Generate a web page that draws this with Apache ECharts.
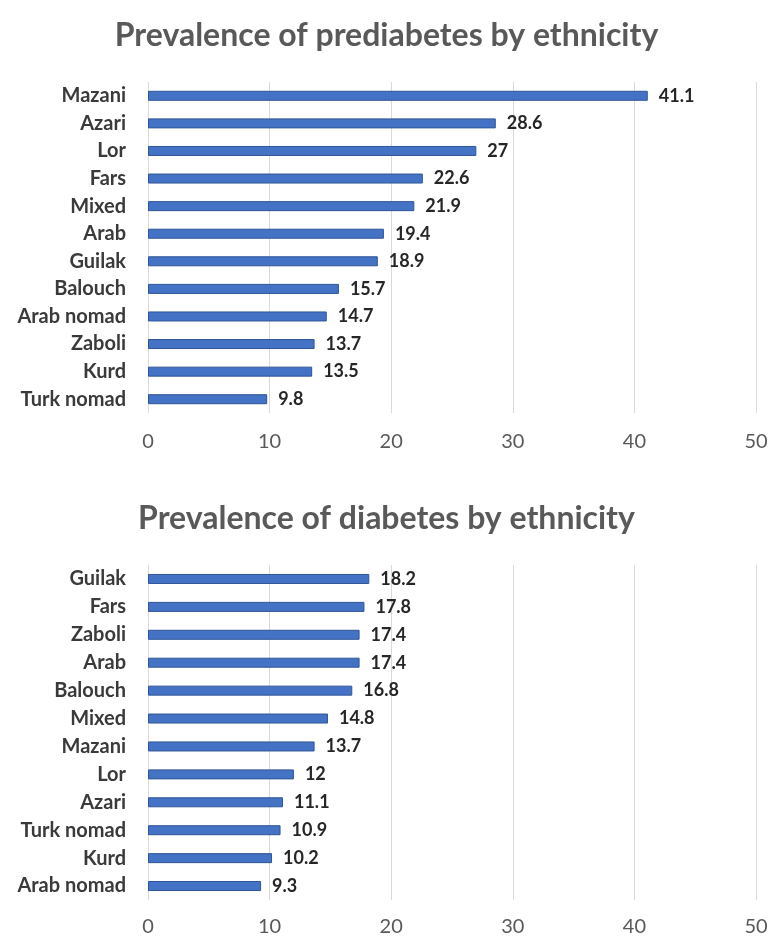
<!DOCTYPE html>
<html>
<head>
<meta charset="utf-8">
<script src="https://cdn.jsdelivr.net/npm/echarts@6/dist/echarts.min.js"></script>
<style>
html,body{margin:0;padding:0;background:#fff;}
#c{width:773px;height:946px;}
</style>
</head>
<body>
<div id="c"></div>
<script>
const preCategories = ["Mazani","Azari","Lor","Fars","Mixed","Arab","Guilak","Balouch","Arab nomad","Zaboli","Kurd","Turk nomad"];
const preValues = [41.1,28.6,27,22.6,21.9,19.4,18.9,15.7,14.7,13.7,13.5,9.8];
const diaCategories = ["Guilak","Fars","Zaboli","Arab","Balouch","Mixed","Mazani","Lor","Azari","Turk nomad","Kurd","Arab nomad"];
const diaValues = [18.2,17.8,17.4,17.4,16.8,14.8,13.7,12,11.1,10.9,10.2,9.3];
const xTicks = [0,10,20,30,40,50];
const titles = ["Prevalence of prediabetes by ethnicity","Prevalence of diabetes by ethnicity"];

const FONT = "Lato";
const chart = echarts.init(document.getElementById('c'));

function xAxisCfg(gi, margin){
  return {
    type:'value', gridIndex:gi, min:xTicks[0], max:xTicks[xTicks.length-1], interval:10,
    axisLine:{show:false}, axisTick:{show:false},
    splitLine:{show:true, lineStyle:{color:'#d9d9d9', width:1}},
    axisLabel:{color:'#595959', fontFamily:FONT, fontSize:20, margin:margin}
  };
}
function yAxisCfg(gi, cats){
  return {
    type:'category', gridIndex:gi, data:cats.slice().reverse(),
    axisLine:{show:false}, axisTick:{show:false},
    axisLabel:{color:'#3a3a3a', fontFamily:FONT, fontWeight:'bold', fontSize:20, margin:22}
  };
}
function seriesCfg(gi, vals){
  return {
    type:'bar', xAxisIndex:gi, yAxisIndex:gi, data:vals.slice().reverse(), barWidth:10,
    itemStyle:{color:'#4472C4', borderColor:'#2F5597', borderWidth:1},
    label:{show:true, position:'right', distance:11, color:'#262626', fontFamily:FONT, fontWeight:'bold', fontSize:18},
    silent:true
  };
}

chart.setOption({
  animation:false,
  title:[
    {text:titles[0], left:'center', top:15, textStyle:{color:'#595959', fontFamily:FONT, fontWeight:'bold', fontSize:32}},
    {text:titles[1], left:'center', top:498, textStyle:{color:'#595959', fontFamily:FONT, fontWeight:'bold', fontSize:32}}
  ],
  grid:[
    {left:148, right:17, top:82, height:331},
    {left:148, right:17, top:565, height:335}
  ],
  xAxis:[xAxisCfg(0,19), xAxisCfg(1,17)],
  yAxis:[yAxisCfg(0,preCategories), yAxisCfg(1,diaCategories)],
  series:[seriesCfg(0,preValues), seriesCfg(1,diaValues)]
});
</script>
</body>
</html>
